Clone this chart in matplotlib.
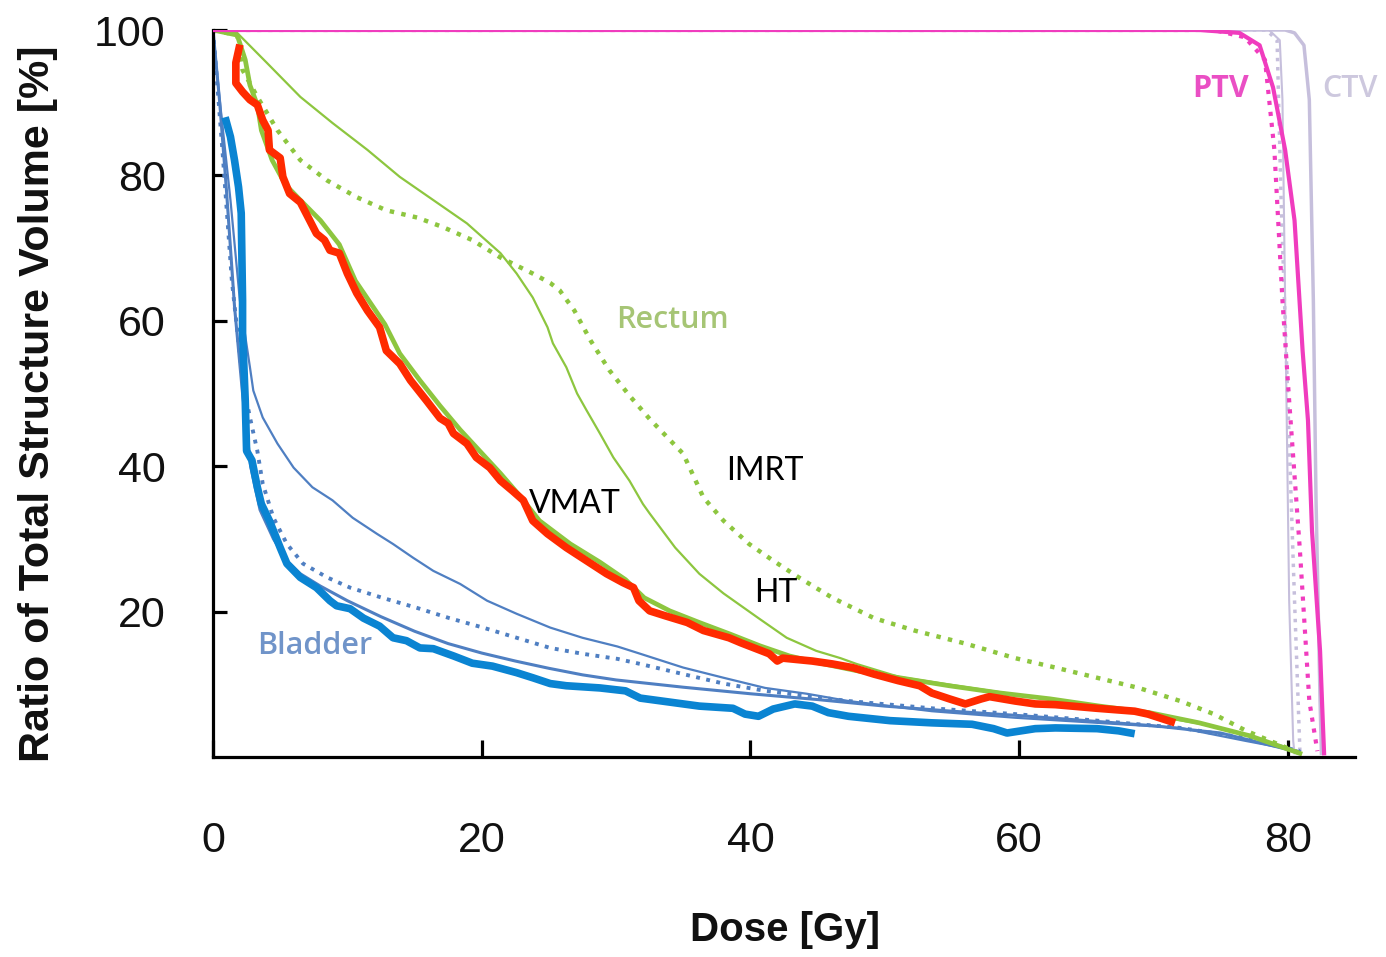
import matplotlib
matplotlib.use("Agg")
import matplotlib.pyplot as plt

# ---------------- data (dose [Gy], volume [%]) ----------------
rect_ht_dose = [0, 1.8, 4.0, 6.5, 8.9, 11.5, 13.9, 16.4, 18.9, 21.4, 22.6, 23.8, 24.9, 25.3, 26.3, 27.1,
                27.8, 28.8, 29.8, 31.0, 32.0, 32.5, 34.4, 36.2, 38.0, 40.6, 42.7, 44.9, 46.7, 47.9,
                51.1, 58.6, 66.0, 73.4, 77.2, 80.9]
rect_ht_vol = [100, 99.6, 95.5, 90.8, 87.2, 83.5, 79.8, 76.6, 73.4, 69.3, 66.5, 63.2, 59.1, 56.9, 53.6, 50.0,
               47.7, 44.5, 41.2, 38.0, 34.8, 33.5, 28.8, 25.2, 22.5, 19.1, 16.4, 14.6, 13.6, 12.8,
               11.0, 8.9, 6.9, 4.6, 3.0, 0.5]

rect_imrt_dose = [0, 1.8, 2.2, 3.3, 4.8, 6.5, 8.5, 10.7, 12.9, 15.2, 17.1, 19.3, 21.4, 23.8, 25.1, 25.8,
                  26.9, 28.1, 29.5, 31.0, 32.5, 35.0, 36.5, 38.0, 39.9, 41.7, 43.6, 46.1, 49.2, 52.2,
                  56.0, 59.7, 62.7, 65.8, 68.9, 72.0, 74.5, 76.9, 80.9]
rect_imrt_vol = [100, 99.3, 94.5, 90.8, 86.2, 82.1, 79.3, 77.0, 75.2, 74.2, 72.9, 71.1, 68.7, 66.5, 65.2, 64.2,
                 61.4, 57.3, 53.2, 49.7, 46.5, 41.7, 35.7, 32.5, 29.3, 27.0, 24.7, 21.9, 19.1, 17.4,
                 15.6, 13.6, 12.3, 10.9, 9.5, 7.7, 5.9, 3.6, 0.5]

rect_vmat_dose = [0, 1.8, 2.4, 2.75, 3.3, 3.6, 4.4, 5.4, 6.5, 8.0, 9.4, 10.6, 11.7, 12.8, 13.9, 15.4,
                  16.9, 18.4, 19.9, 21.4, 22.8, 24.3, 26.6, 28.8, 30.7, 32.1, 34.0, 36.2, 38.5, 40.7,
                  42.9, 45.2, 48.1, 51.1, 54.8, 58.6, 62.3, 66.0, 69.7, 73.4, 77.2, 80.9]
rect_vmat_vol = [100, 99.3, 95.9, 92.4, 89.7, 86.2, 82.1, 78.7, 76.6, 73.8, 70.5, 65.5, 62.5, 59.5, 55.5, 51.8,
                 48.3, 45.0, 42.0, 39.0, 36.0, 32.5, 29.3, 26.8, 24.4, 21.9, 20.1, 18.5, 16.9, 15.3,
                 13.9, 12.9, 11.8, 10.9, 9.8, 8.8, 8.0, 7.0, 6.1, 4.7, 2.9, 0.5]

red_dose = [2.0, 1.7, 1.7, 2.2, 2.75, 3.3, 3.7, 4.1, 4.2, 5.0, 5.2, 5.7, 6.5, 7.2, 7.7, 8.3, 8.7, 9.4,
            10.0, 10.7, 11.5, 12.4, 12.9, 13.9, 14.7, 15.9, 16.9, 17.5, 17.9, 18.9, 19.6, 20.6, 21.4,
            22.3, 23.1, 23.8, 24.9, 26.3, 27.8, 29.3, 30.5, 31.3, 31.7, 32.5, 33.7, 35.3, 36.5, 38.4,
            39.3, 41.4, 42.0, 42.4, 44.6, 46.1, 47.6, 49.2, 51.0, 52.6, 53.5, 54.8, 56.0, 57.2, 57.8,
            59.7, 61.2, 62.7, 65.8, 68.6, 69.6, 71.6]
red_vol = [98.0, 95.5, 92.7, 91.5, 90.4, 89.7, 87.6, 86.2, 83.5, 82.4, 79.8, 77.5, 76.3, 73.8, 72.0, 71.1, 69.7, 69.3,
           66.5, 63.8, 61.4, 59.1, 55.9, 54.1, 51.8, 49.0, 46.6, 45.9, 44.5, 43.1, 41.2, 39.8, 38.0,
           36.6, 35.3, 32.5, 30.7, 28.8, 27.0, 25.2, 24.0, 23.3, 21.5, 20.1, 19.4, 18.5, 17.4, 16.4,
           15.7, 14.2, 13.2, 13.6, 13.2, 12.8, 12.3, 11.4, 10.5, 9.8, 8.8, 8.0, 7.3, 8.0, 8.3,
           7.7, 7.3, 7.2, 6.7, 6.3, 5.9, 4.7]

blad_ht_dose = [0, 0.5, 1.3, 2.0, 2.75, 3.0, 3.7, 4.8, 6.0, 7.4, 8.9, 10.4, 12.2, 13.4, 14.9, 16.4, 18.4,
                20.4, 22.6, 25.1, 27.5, 30.1, 31.8, 35.0, 38.0, 41.1, 44.2, 47.3, 53.5, 59.7, 65.8,
                72.0, 76.9, 80.9]
blad_ht_vol = [100, 90.4, 76.6, 62.8, 53.6, 50.4, 46.7, 43.1, 39.8, 37.1, 35.3, 32.9, 30.7, 29.3, 27.4, 25.6, 23.8,
               21.5, 19.7, 17.8, 16.4, 15.2, 14.2, 12.3, 10.9, 9.5, 8.7, 7.7, 6.3, 5.4, 4.7,
               4.0, 2.2, 0.8]

blad_imrt_dose = [0, 0.7, 1.4, 2.2, 2.75, 3.3, 3.7, 4.5, 5.5, 6.7, 8.5, 10.2, 12.6, 15.2, 17.6, 20.1,
                  22.6, 25.1, 27.5, 30.1, 31.8, 35.0, 38.0, 41.1, 44.2, 47.3, 53.5, 59.7, 65.8, 72.0,
                  76.9, 80.9]
blad_imrt_vol = [100, 83.5, 65.6, 51.8, 46.7, 42.1, 37.6, 32.9, 29.3, 26.6, 24.7, 23.3, 21.9, 20.5, 19.1, 17.8,
                 16.4, 15.0, 14.2, 13.5, 12.8, 11.4, 10.1, 9.1, 8.4, 7.7, 6.7, 5.9, 5.0, 4.0,
                 2.6, 0.8]

blad_vmat_dose = [0, 0.5, 1.0, 1.6, 2.2, 2.8, 3.5, 4.5, 5.5, 6.5, 8.0, 10.0, 12.5, 15.0, 17.5, 20.0,
                  22.5, 25.0, 27.5, 30.0, 35.0, 40.0, 45.0, 50.0, 55.0, 60.0, 65.0, 70.0, 75.0, 80.5]
blad_vmat_vol = [100, 90, 78, 62, 50, 40, 34, 30, 27, 25.2, 23.5, 21.5, 19.3, 17.3, 15.6, 14.3,
                 13.2, 12.2, 11.3, 10.6, 9.6, 8.7, 7.9, 7.0, 6.3, 5.7, 5.0, 4.3, 3.3, 0.8]

blue_dose = [0.9, 1.3, 1.6, 1.9, 2.1, 2.2, 2.2, 2.4, 2.5, 2.9, 3.3, 3.6, 4.2, 5.0, 5.5, 6.5, 7.7, 8.7,
             9.2, 10.2, 11.2, 12.4, 13.4, 14.4, 15.4, 16.4, 17.9, 19.3, 20.8, 22.6, 23.8, 25.1, 26.3,
             28.8, 30.7, 31.8, 33.4, 36.2, 38.7, 39.6, 40.6, 41.7, 43.3, 44.6, 45.8, 47.3, 50.4, 53.5,
             56.5, 58.1, 59.1, 61.2, 62.7, 65.8, 67.4, 68.6]
blue_vol = [88.0, 85.3, 82.1, 78.4, 74.8, 62.8, 58.3, 49.0, 42.1, 40.8, 37.1, 34.8, 32.5, 28.8, 26.6, 24.7, 23.3, 21.5,
            20.8, 20.4, 19.1, 18.0, 16.4, 16.0, 15.0, 14.9, 13.9, 12.9, 12.5, 11.6, 10.9, 10.1, 9.8,
            9.5, 9.1, 8.1, 7.7, 7.0, 6.7, 5.9, 5.6, 6.6, 7.3, 7.0, 6.1, 5.6, 5.0, 4.7,
            4.5, 3.9, 3.3, 3.9, 4.0, 3.9, 3.6, 3.2]

ptv_dose = [0, 73.4, 76.4, 77.9, 78.9, 79.8, 80.5, 81.1, 81.5, 81.8, 82.4, 82.6, 82.7]
ptv_vol = [100, 100, 99.6, 97.9, 92.1, 83.5, 73.8, 55.9, 46.3, 31.1, 14.6, 5.0, 0.5]

ptv2_dose = [0, 74.5, 76.8, 78.3, 79.0, 79.6, 80.1, 80.9, 81.6, 82.2]
ptv2_vol = [100, 100, 99.0, 95.9, 83.5, 62.8, 49.0, 28.4, 7.7, 0.8]

ctv_thin_dose = [0, 78.6, 79.4, 79.6, 79.8, 80.1, 80.4, 80.5]
ctv_thin_vol = [100, 100, 98.6, 90.4, 62.8, 21.5, 2.2, 0.5]

ctv_dot_dose = [0, 78.4, 79.2, 79.5, 80.0, 80.5, 80.9]
ctv_dot_vol = [100, 100, 98.6, 76.6, 49.0, 21.5, 0.8]

ctv_dose = [0, 79.8, 80.5, 81.2, 81.6, 81.9, 82.1, 82.4, 82.5]
ctv_vol = [100, 100, 99.6, 97.9, 90.4, 62.8, 35.3, 7.7, 0.5]

x_ticks = [0, 20, 40, 60, 80]
y_ticks = [20, 40, 60, 80, 100]

# ---------------- colours ----------------
GREEN = "#8dc63f"
RED = "#ff2a00"
BLUE_T = "#0a84d2"
STEEL = "#4f7fc2"
MAG = "#f03cbe"
LAV = "#c6bfdc"

fig = plt.figure(figsize=(13.86, 9.57), dpi=100)
W, H = 1386, 957
ax = fig.add_axes([213 / W, 1 - 757 / H, (1355 - 213) / W, (757 - 30) / H])
ax.set_xlim(0, 85)
ax.set_ylim(0, 100)

# CTV
ax.plot(ctv_thin_dose, ctv_thin_vol, color=LAV, lw=1.5, zorder=2)
ax.plot(ctv_dot_dose, ctv_dot_vol, color=LAV, lw=2.5, ls=":", zorder=2)
ax.plot(ctv_dose, ctv_vol, color=LAV, lw=2.5, zorder=2)
# PTV
ax.plot(ptv2_dose, ptv2_vol, color=MAG, lw=3.0, ls=":", zorder=3)
ax.plot(ptv_dose, ptv_vol, color=MAG, lw=3.0, zorder=3)

# Bladder
ax.plot(blad_ht_dose, blad_ht_vol, color=STEEL, lw=1.6, zorder=2)
ax.plot(blad_imrt_dose, blad_imrt_vol, color=STEEL, lw=2.8, ls=":", zorder=2)
ax.plot(blad_vmat_dose, blad_vmat_vol, color=STEEL, lw=2.2, zorder=2)

# Rectum
ax.plot(rect_ht_dose, rect_ht_vol, color=GREEN, lw=1.6, zorder=2)
ax.plot(rect_imrt_dose, rect_imrt_vol, color=GREEN, lw=3.2, ls=":", zorder=2)
ax.plot(rect_vmat_dose, rect_vmat_vol, color=GREEN, lw=3.4, zorder=2)

# Overlays
ax.plot(red_dose, red_vol, color=RED, lw=5.5, zorder=5, solid_capstyle="butt")
ax.plot(blue_dose, blue_vol, color=BLUE_T, lw=5.5, zorder=5, solid_capstyle="butt")

# spines & ticks
for s in ["top", "right"]:
    ax.spines[s].set_visible(False)
for s in ["left", "bottom"]:
    ax.spines[s].set_linewidth(2.3)
    ax.spines[s].set_color("black")
ax.set_xticks(x_ticks)
ax.set_yticks(y_ticks)
ax.tick_params(axis="x", direction="in", length=12, width=2.3, pad=46,
               labelsize=31, labelcolor="#111111")
ax.tick_params(axis="y", direction="in", length=10, width=2.3, pad=34,
               labelsize=31, labelcolor="#111111")
for lab in ax.get_xticklabels() + ax.get_yticklabels():
    lab.set_fontfamily("Liberation Sans")

# axis labels
fig.text(38 / W, 1 - 404 / H, "Ratio of Total Structure Volume [%]", rotation=90,
         ha="center", va="center", fontsize=31, fontweight="bold",
         family="Liberation Sans", color="#111111")
fig.text(785 / W, 1 - 930 / H, "Dose [Gy]", ha="center", va="center",
         fontsize=29, fontweight="bold", family="Liberation Sans", color="#111111")

# annotations
ax.text(26.9, 34.8, "VMAT", ha="center", va="center", fontsize=23, family="Lato", color="black", zorder=6)
ax.text(41.1, 39.3, "IMRT", ha="center", va="center", fontsize=23, family="Lato", color="black", zorder=6)
ax.text(41.9, 22.5, "HT", ha="center", va="center", fontsize=23, family="Lato", color="black", zorder=6)
ax.text(34.2, 60.1, "Rectum", ha="center", va="center", fontsize=22, family="Open Sans",
        fontweight="semibold", color="#a6c575", zorder=6)
ax.text(7.6, 15.3, "Bladder", ha="center", va="center", fontsize=22, family="Open Sans",
        fontweight="semibold", color="#7094c9", zorder=6)
ax.text(75.0, 91.9, "PTV", ha="center", va="center", fontsize=22, family="Open Sans",
        fontweight="bold", color="#ea4fc4", zorder=6)
ax.text(84.6, 91.9, "CTV", ha="center", va="center", fontsize=22, family="Open Sans",
        fontweight="semibold", color="#cdc8de", zorder=6, clip_on=False)

fig.savefig("out.png", dpi=100)
